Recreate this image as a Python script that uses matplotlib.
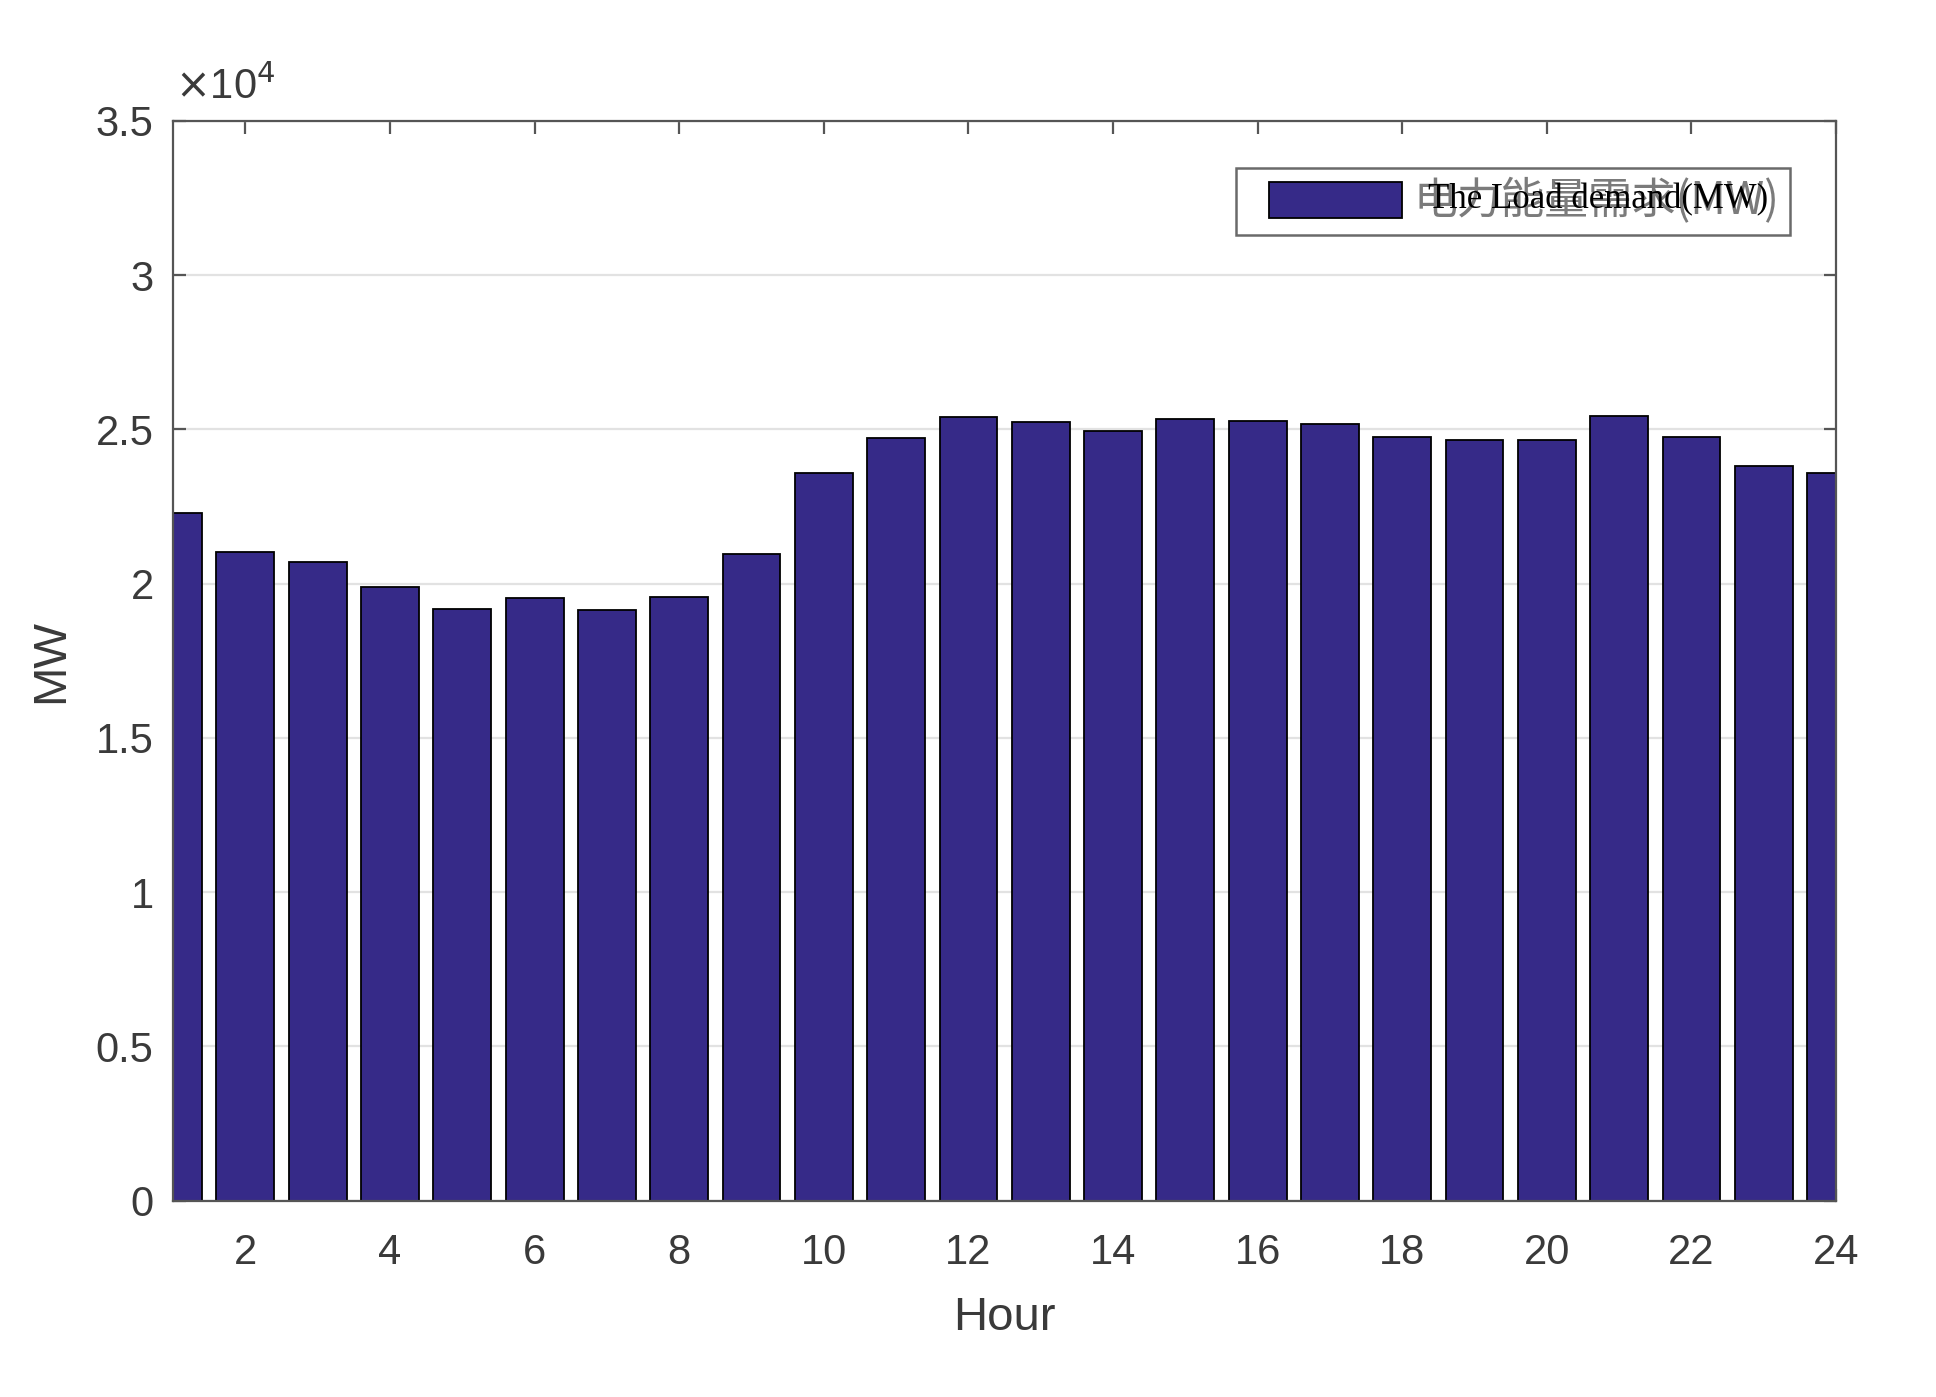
import numpy as np
import matplotlib.pyplot as plt
from matplotlib.ticker import FuncFormatter, MultipleLocator
from matplotlib.patches import Patch, Rectangle
from matplotlib.legend_handler import HandlerPatch

# hourly load demand (MW)
hours = np.arange(1, 25)
load_mw = [22280, 21020, 20700, 19900, 19190, 19550, 19140, 19570,
           20950, 23600, 24730, 25400, 25240, 24940, 25350, 25290,
           25190, 24750, 24670, 24670, 25440, 24760, 23800, 23580]

x_ticks = list(range(2, 25, 2))
label_en = 'The Load demand(MW)'
label_cn = '电力能量需求(MW)'

bar_color = '#362a88'
txt_color = '#3a3a3a'


def shifted_patch(legend, orig_handle, xdescent, ydescent, width, height, fontsize):
    # leave some extra room left of the legend swatch
    off = 16
    return Rectangle((-xdescent + off, -ydescent), width - off, height)


fig = plt.figure(figsize=(19.36, 13.97), dpi=100)
ax = fig.add_axes([0.0894, 0.1405, 0.859, 0.7729])

ax.bar(hours, load_mw, width=0.8, color=bar_color, edgecolor='black',
       linewidth=1.3, zorder=3)

ax.set_xlim(1, 24)
ax.set_ylim(0, 35000)
ax.set_xticks(x_ticks)
ax.yaxis.set_major_locator(MultipleLocator(5000))
ax.yaxis.set_major_formatter(FuncFormatter(lambda v, p: '%g' % (v / 1e4)))

ax.grid(axis='y', color='#e2e2e2', linewidth=1.6, zorder=0)
ax.set_axisbelow(True)

for s in ax.spines.values():
    s.set_color('#555555')
    s.set_linewidth(1.6)
    s.set_zorder(4)

ax.tick_params(direction='in', length=9, width=1.6, color='#555555',
               top=True, right=True, labelsize=30, labelcolor=txt_color,
               labelfontfamily='Liberation Sans')
ax.tick_params(axis='x', pad=23.5)
ax.tick_params(axis='y', pad=14)

ax.set_xlabel('Hour', fontsize=34, color=txt_color, family='Liberation Sans',
              labelpad=16)
ax.set_ylabel('MW', fontsize=34, color=txt_color, family='Liberation Sans',
              labelpad=16)

# MATLAB style exponent above the y axis
ax.text(0.001, 1.012, r'$\times$10$^4$', transform=ax.transAxes, fontsize=30,
        color=txt_color, family='Liberation Sans', ha='left', va='bottom')

# legend carries the blurry Chinese label, English text sits on top of it
handle = Patch(facecolor=bar_color, edgecolor='black', linewidth=1.3)
leg = ax.legend([handle], [label_cn], loc='upper right',
                bbox_to_anchor=(0.972, 0.956), borderaxespad=0,
                fancybox=False, edgecolor='#6a6a6a', framealpha=1,
                handlelength=3.55, handleheight=0.89, handletextpad=0.27,
                borderpad=0.23,
                handler_map={Patch: HandlerPatch(patch_func=shifted_patch)},
                prop={'family': ['Noto Sans CJK SC', 'DejaVu Sans'], 'size': 31.5})
leg.get_frame().set_linewidth(1.8)
for t in leg.get_texts():
    t.set_color('#5a5a5a')
    t.set_alpha(0.8)

ax.text(0.7547, 0.9268, label_en, transform=ax.transAxes, fontsize=25,
        family='Liberation Serif', color='black', ha='left', va='center',
        zorder=10)

plt.savefig('out.png', dpi=100)
